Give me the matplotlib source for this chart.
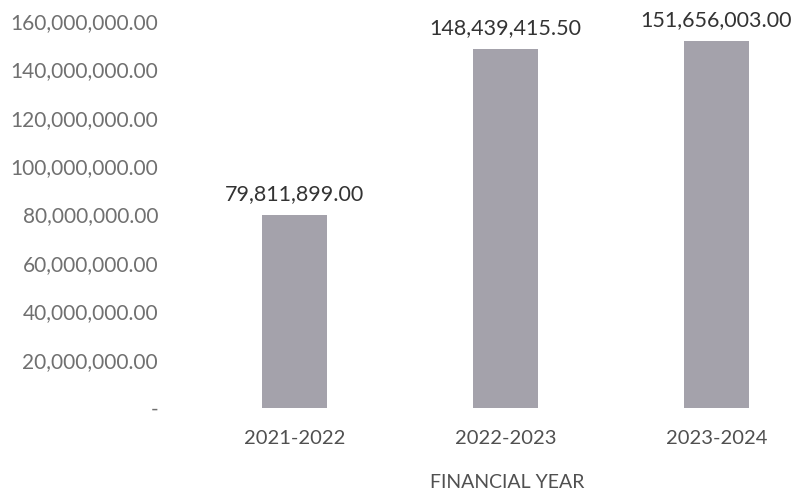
import numpy as np
import matplotlib.pyplot as plt
from matplotlib.ticker import FuncFormatter

years = ['2021-2022', '2022-2023', '2023-2024']
amounts = [79811899.00, 148439415.50, 151656003.00]
y_ticks = [0, 20000000, 40000000, 60000000, 80000000, 100000000,
           120000000, 140000000, 160000000]

plt.rcParams['font.family'] = ['Lato', 'DejaVu Sans']

fig = plt.figure(figsize=(7.96, 4.95), dpi=100)
ax = fig.add_axes([165 / 796, 1 - 408 / 495, 631 / 796, (408 - 21) / 495])

x = np.arange(len(years))
bars = ax.bar(x, amounts, width=0.31, color='#a4a2ab')

for b, v in zip(bars, amounts):
    ax.annotate('{:,.2f}'.format(v), (b.get_x() + b.get_width() / 2, v),
                xytext=(0, 8), textcoords='offset points',
                ha='center', va='bottom', fontsize=15.5, color='#333333',
                annotation_clip=False)

ax.set_xlim(-0.614, 2.377)
ax.set_ylim(0, 160000000)
ax.set_yticks(y_ticks)
ax.yaxis.set_major_formatter(FuncFormatter(
    lambda v, p: '-' if v == 0 else '{:,.2f}'.format(v)))
ax.set_xticks(x)
ax.set_xticklabels(years)

ax.tick_params(axis='y', length=0, pad=5, labelsize=15, labelcolor='#707070')
ax.tick_params(axis='x', length=0, pad=16, labelsize=14.5, labelcolor='#505050')
for s in ax.spines.values():
    s.set_visible(False)

ax.set_xlabel('FINANCIAL YEAR', fontsize=14, color='#505050')
ax.xaxis.set_label_coords((507 - 165) / 631, -(474 - 408) / (408 - 21))

fig.savefig('out.png', dpi=100)
